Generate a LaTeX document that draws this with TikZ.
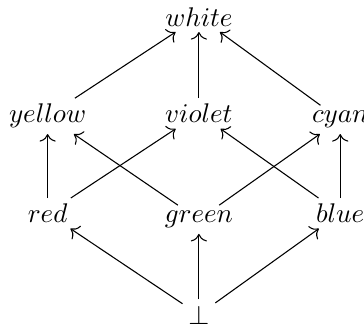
\documentclass[tikz,border=0pt]{standalone}
\usepackage{amsmath}
\usetikzlibrary{arrows.meta}

\begin{document}
\begin{tikzpicture}[line width=0.4pt,>={To[length=2.8pt,width=6pt]},every node/.style={anchor=base,inner sep=2pt}]
  \useasboundingbox (0,0) rectangle (4.74,4.27);
  % ===================== rejilla de colores =====================
  % arriba
  \node (white) at (2.59,3.93){$white$};
  % fila central
  \node (yellow) at (0.62,2.67){$yellow$};
  \node (violet) at (2.59,2.67){$violet$};
  \node (cyan) at (4.43,2.67){$cyan$};
  % fila inferior
  \node (red) at (0.62,1.37){$red$};
  \node (green) at (2.59,1.37){$green$};
  \node (blue) at (4.43,1.37){$blue$};
  % fondo
  \node (bot) at (2.59,0.05){$\bot$};
  % ---------- flechas ----------
  \draw[->] (bot)--(red); \draw[->] (bot)--(green); \draw[->] (bot)--(blue);
  \draw[->] (red)--(yellow); \draw[->] (red)--(violet);
  \draw[->] (green)--(yellow); \draw[->] (green)--(cyan);
  \draw[->] (blue)--(violet); \draw[->] (blue)--(cyan);
  \draw[->] (yellow)--(white); \draw[->] (violet)--(white); \draw[->] (cyan)--(white);
\end{tikzpicture}
\end{document}
